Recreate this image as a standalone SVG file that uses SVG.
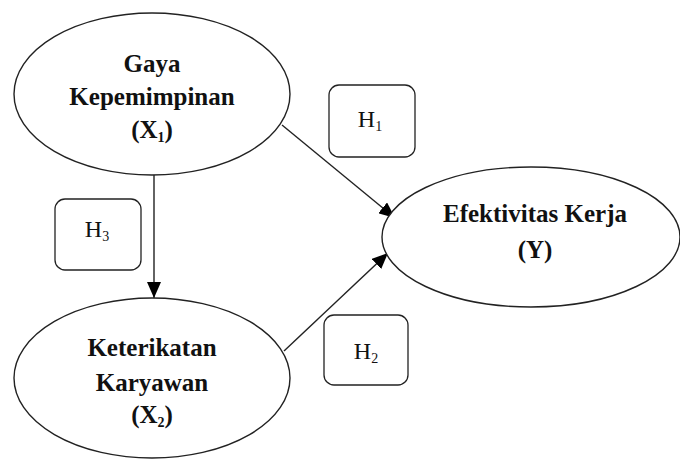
<svg xmlns="http://www.w3.org/2000/svg" width="680" height="462" viewBox="0 0 680 462">
<style>
.node{fill:#fff;stroke:#222;stroke-width:1.4}
.box{fill:#fff;stroke:#222;stroke-width:1.3}
.t{font-family:"Liberation Serif","Times New Roman",serif;font-weight:bold;font-size:25px;fill:#111;text-anchor:middle}
.h{font-family:"Liberation Serif","Times New Roman",serif;font-size:24px;fill:#111;text-anchor:middle}
.sub{font-size:14px}
.c{stroke:#222;stroke-width:1.4;fill:none}
</style>
<defs>
<marker id="ah" markerWidth="16" markerHeight="14" refX="16" refY="7" orient="auto" markerUnits="userSpaceOnUse">
<path d="M0,0 L16,7 L0,14 Z" fill="#000"/>
</marker>
</defs>
<g id="connectors">
<line class="c" x1="154" y1="175" x2="154" y2="298" marker-end="url(#ah)"/>
<line class="c" x1="282" y1="125" x2="395" y2="218" marker-end="url(#ah)"/>
<line class="c" x1="284" y1="351" x2="388" y2="253" marker-end="url(#ah)"/>
</g>
<g id="x1">
<ellipse class="node" cx="152" cy="94" rx="138" ry="81"/>
<text class="t" x="152" y="72">Gaya</text>
<text class="t" x="152" y="105">Kepemimpinan</text>
<text class="t" x="152" y="138">(X<tspan class="sub" dy="4">1</tspan><tspan dy="-4">)</tspan></text>
</g>
<g id="x2">
<ellipse class="node" cx="152" cy="378" rx="138" ry="80"/>
<text class="t" x="152" y="356">Keterikatan</text>
<text class="t" x="152" y="391">Karyawan</text>
<text class="t" x="152" y="423">(X<tspan class="sub" dy="4">2</tspan><tspan dy="-4">)</tspan></text>
</g>
<g id="y">
<ellipse class="node" cx="531" cy="237" rx="149" ry="70"/>
<text class="t" x="535" y="222">Efektivitas Kerja</text>
<text class="t" x="535" y="258">(Y)</text>
</g>
<g id="h1">
<rect class="box" x="329" y="85" width="86" height="72" rx="10"/>
<text class="h" x="370" y="127">H<tspan class="sub" dy="4">1</tspan></text>
</g>
<g id="h2">
<rect class="box" x="324" y="315" width="84" height="70" rx="10"/>
<text class="h" x="366" y="359">H<tspan class="sub" dy="4">2</tspan></text>
</g>
<g id="h3">
<rect class="box" x="55" y="199" width="86" height="71" rx="10"/>
<text class="h" x="97" y="237">H<tspan class="sub" dy="4">3</tspan></text>
</g>
</svg>
